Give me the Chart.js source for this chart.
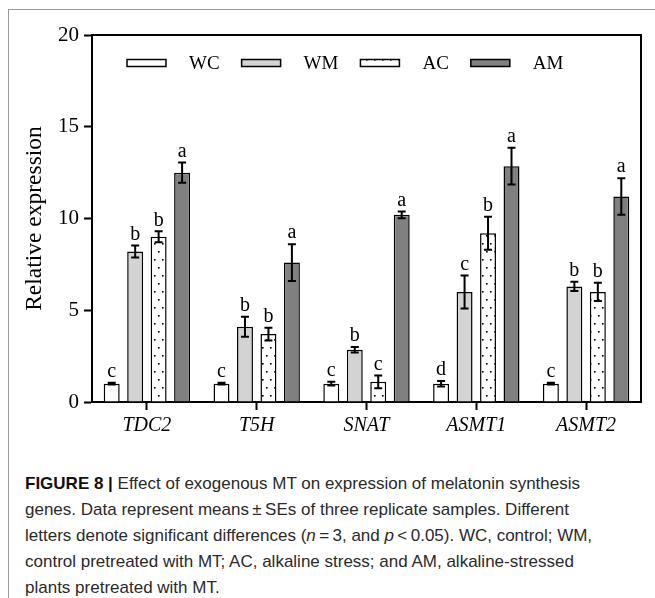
<!DOCTYPE html>
<html>
<head>
<meta charset="utf-8">
<script src="https://cdn.jsdelivr.net/npm/chart.js@4.4.0/dist/chart.umd.min.js"></script>
<style>
  body { margin: 0; background: #fff; }
  #frame { position: absolute; left: 8px; top: 9px; width: 660px; height: 600px;
           border-top: 1.5px solid #9a9a9a; border-left: 1.5px solid #9a9a9a; }
  #wrap { position: absolute; left: 0; top: 0; width: 655px; height: 450px; }
  #caption { position: absolute; left: 25px; top: 471px; width: 625px;
             font-family: "Liberation Sans", Arial, sans-serif; font-size: 17px;
             line-height: 26px; color: #2a2a2a; white-space: nowrap; }
  #caption b { font-weight: bold; color: #111; }
</style>
</head>
<body>
<div id="frame"></div>
<div id="wrap"><canvas id="myChart"></canvas></div>
<div id="caption">
  <b>FIGURE 8 |</b> Effect of exogenous MT on expression of melatonin synthesis<br>
  genes. Data represent means&#8201;±&#8201;SEs of three replicate samples. Different<br>
  letters denote significant differences (<i>n</i>&#8201;=&#8201;3, and <i>p</i>&#8201;&lt;&#8201;0.05). WC, control; WM,<br>
  control pretreated with MT; AC, alkaline stress; and AM, alkaline-stressed<br>
  plants pretreated with MT.
</div>
<script>
// genes on the x axis
const genes = ['TDC2', 'T5H', 'SNAT', 'ASMT1', 'ASMT2'];

// means and SEs for each treatment
const wc = [1.0, 1.0, 1.0, 1.0, 1.0];
const wcErr = [0.05, 0.05, 0.1, 0.15, 0.05];
const wm = [8.2, 4.1, 2.85, 6.0, 6.3];
const wmErr = [0.33, 0.55, 0.15, 0.9, 0.25];
const ac = [9.0, 3.7, 1.1, 9.2, 6.0];
const acErr = [0.3, 0.35, 0.35, 0.9, 0.5];
const am = [12.5, 7.6, 10.2, 12.85, 11.2];
const amErr = [0.55, 1.0, 0.18, 1.0, 1.0];

// significance letters
const wcLetters = ['c', 'c', 'c', 'd', 'c'];
const wmLetters = ['b', 'b', 'b', 'c', 'b'];
const acLetters = ['b', 'b', 'c', 'b', 'b'];
const amLetters = ['a', 'a', 'a', 'a', 'a'];

const yTicks = [0, 5, 10, 15, 20];

const serif = '"Liberation Serif", "Times New Roman", serif';

// dotted fill for AC
function dotPattern() {
    const c = document.createElement('canvas');
    c.width = 8; c.height = 16;
    const g = c.getContext('2d');
    g.fillStyle = '#fff';
    g.fillRect(0, 0, 8, 16);
    g.fillStyle = '#000';
    g.fillRect(2, 3, 1.6, 1.6);
    g.fillRect(6, 11, 1.6, 1.6);
    return g.createPattern(c, 'repeat');
}

const ctx = document.getElementById('myChart').getContext('2d');
const acFill = dotPattern();

const errorBars = {
    id: 'errorBars',
    afterDatasetsDraw(chart) {
        const g = chart.ctx;
        const y = chart.scales.y;
        g.save();
        g.strokeStyle = '#000';
        g.lineWidth = 2;
        g.fillStyle = '#000';
        g.font = '20px ' + serif;
        g.textAlign = 'center';
        g.textBaseline = 'bottom';
        chart.data.datasets.forEach((ds, i) => {
            const meta = chart.getDatasetMeta(i);
            meta.data.forEach((bar, j) => {
                const v = ds.data[j], e = ds.errors[j];
                const top = y.getPixelForValue(v + e);
                const bot = y.getPixelForValue(v - e);
                g.beginPath();
                g.moveTo(bar.x, top); g.lineTo(bar.x, bot);
                g.moveTo(bar.x - 4, top); g.lineTo(bar.x + 4, top);
                g.moveTo(bar.x - 4, bot); g.lineTo(bar.x + 4, bot);
                g.stroke();
                g.fillText(ds.letters[j], bar.x, top - 1);
            });
        });
        g.restore();
    }
};

const boxAndLegend = {
    id: 'boxAndLegend',
    afterDraw(chart) {
        const g = chart.ctx;
        const a = chart.chartArea;
        g.save();
        // top and right edges of the plot box
        g.strokeStyle = '#000';
        g.lineWidth = 2;
        g.beginPath();
        g.moveTo(a.left, a.top); g.lineTo(a.right, a.top); g.lineTo(a.right, a.bottom);
        g.stroke();
        // legend row inside the plot
        g.font = '19px ' + serif;
        g.textBaseline = 'middle';
        g.lineWidth = 1.5;
        let x = a.left + 35;
        const yc = a.top + 28;
        chart.data.datasets.forEach(ds => {
            g.fillStyle = ds.backgroundColor;
            g.fillRect(x, yc - 3.5, 39, 7);
            g.strokeRect(x, yc - 3.5, 39, 7);
            x += 39 + 23;
            g.fillStyle = '#000';
            g.fillText(ds.label, x, yc + 1);
            x += g.measureText(ds.label).width + 22;
        });
        g.restore();
    }
};

function bars(label, data, errors, letters, fill) {
    return {
        label: label,
        data: data,
        errors: errors,
        letters: letters,
        backgroundColor: fill,
        borderColor: '#000',
        borderWidth: 1.5,
        categoryPercentage: 0.855,
        barPercentage: 0.68
    };
}

const chart = new Chart(ctx, {
    type: 'bar',
    data: {
        labels: genes,
        datasets: [
            bars('WC', wc, wcErr, wcLetters, '#ffffff'),
            bars('WM', wm, wmErr, wmLetters, '#d3d3d3'),
            bars('AC', ac, acErr, acLetters, acFill),
            bars('AM', am, amErr, amLetters, '#808080')
        ]
    },
    options: {
        responsive: true,
        maintainAspectRatio: false,
        animation: false,
        layout: { padding: { left: 0, top: 35, right: 14, bottom: 0 } },
        plugins: {
            legend: { display: false },
            tooltip: { enabled: false }
        },
        scales: {
            x: {
                afterFit: s => { s.height = 48; },
                grid: { drawOnChartArea: false, offset: false, tickLength: 8, tickWidth: 2, tickColor: '#000' },
                border: { color: '#000', width: 2 },
                ticks: { color: '#000', padding: 4, font: { family: serif, size: 20, style: 'italic' } }
            },
            y: {
                min: 0,
                max: 20,
                afterFit: s => { s.width = 92; },
                afterBuildTicks: s => { s.ticks = yTicks.map(v => ({ value: v })); },
                grid: { drawOnChartArea: false, tickLength: 8, tickWidth: 2, tickColor: '#000' },
                border: { color: '#000', width: 2 },
                ticks: { color: '#000', padding: 5, font: { family: serif, size: 21 } },
                title: {
                    display: true,
                    text: 'Relative expression',
                    color: '#000',
                    padding: { top: 21, bottom: 0 },
                    font: { family: serif, size: 23.5 }
                }
            }
        }
    },
    plugins: [errorBars, boxAndLegend]
});
</script>
</body>
</html>
